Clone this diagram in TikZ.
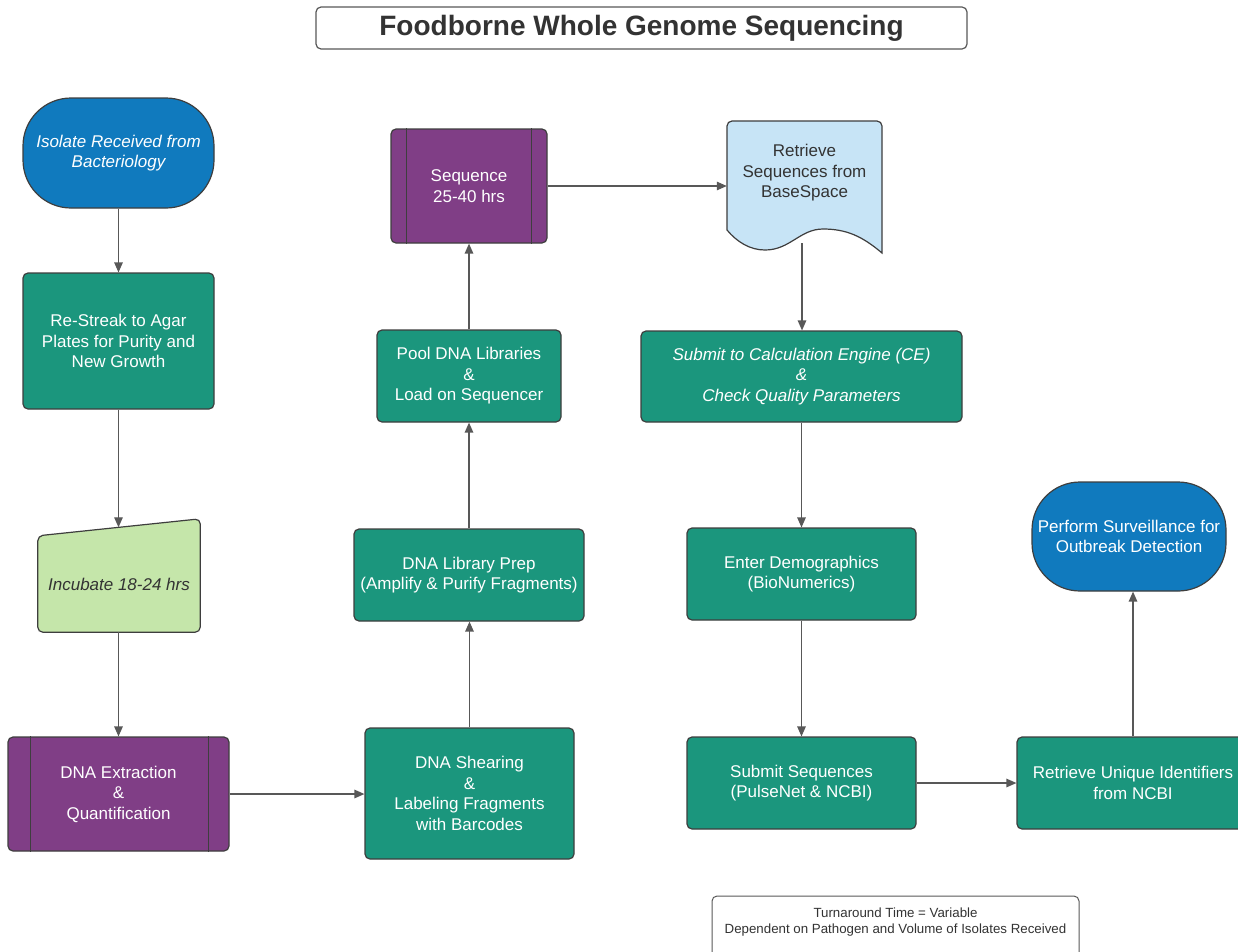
\documentclass[tikz,border=0pt]{standalone}
\usepackage{fontspec}
\setmainfont{Liberation Sans}
\usetikzlibrary{arrows.meta,calc}

\definecolor{termblue}{RGB}{16,122,190}
\definecolor{procteal}{RGB}{27,150,125}
\definecolor{predpurple}{RGB}{128,62,134}
\definecolor{inputgreen}{RGB}{197,230,170}
\definecolor{docblue}{RGB}{199,228,246}
\definecolor{edgegray}{RGB}{62,62,62}
\definecolor{flowgray}{RGB}{88,88,88}
\definecolor{textdark}{RGB}{51,51,51}

\begin{document}
\begin{tikzpicture}[x=1pt,y=-1pt,
  boxtext/.style={align=center,inner sep=0pt,font=\fontsize{17}{20.5}\selectfont},
  shapeline/.style={draw=edgegray,line width=1.2pt},
  process/.style={boxtext,shapeline,fill=procteal,text=white,rounded corners=5pt},
  predef/.style={boxtext,shapeline,fill=predpurple,text=white,rounded corners=5pt},
  terminal/.style={boxtext,shapeline,fill=termblue,text=white,rounded corners=48pt},
  flow/.style={draw=flowgray,line width=1.3pt,-{Triangle[length=10pt,width=8.5pt]}},
  titlebox/.style={draw=flowgray,line width=1.2pt,rounded corners=5pt,fill=white,
    font=\fontsize{28}{32}\selectfont\bfseries,text=textdark},
  notebox/.style={draw=flowgray,line width=1pt,rounded corners=5pt,fill=white},
  notetext/.style={align=center,inner sep=0pt,text=textdark,font=\fontsize{13.3}{16}\selectfont}
]
\useasboundingbox (0,0) rectangle (1238,951);
\fill[white] (0,0) rectangle (1238,951);

% title
\node[titlebox,minimum width=651pt,minimum height=42pt] (title) at (641.5,28) {Foodborne Whole Genome Sequencing};

% left column
\node[terminal,minimum width=191pt,minimum height=110pt] (iso) at (118.5,153)
  {\itshape Isolate Received from\\\itshape Bacteriology};
\node[process,minimum width=191pt,minimum height=136pt] (rs) at (118.5,341)
  {Re-Streak to Agar\\Plates for Purity and\\New Growth};

% manual input (sloped top)
\node[inner sep=0pt,minimum width=162pt,minimum height=96pt] (inc) at (119,584) {};
\path[shapeline,fill=inputgreen,rounded corners=5pt]
  (inc.south west) -- (inc.north west) -- ($(inc.north east)+(0,-17)$) -- (inc.south east) -- cycle;
\node[boxtext,text=textdark] (inctext) at (inc.center) {\itshape Incubate 18-24 hrs};
\coordinate (inctop) at ($(inc.north)+(0,-8.5)$);

\node[predef,minimum width=221pt,minimum height=114pt] (ext) at (118.5,794)
  {DNA Extraction\\\&\\Quantification};
\draw[shapeline] ($(ext.north west)+(23,0)$) -- ($(ext.south west)+(23,0)$);
\draw[shapeline] ($(ext.north east)+(-21,0)$) -- ($(ext.south east)+(-21,0)$);

% middle column
\node[process,minimum width=209pt,minimum height=131pt] (shear) at (469.5,793.5)
  {DNA Shearing\\\&\\Labeling Fragments\\with Barcodes};
\node[process,minimum width=230pt,minimum height=92pt] (lib) at (469,575)
  {DNA Library Prep\\(Amplify \& Purify Fragments)};
\node[process,minimum width=184pt,minimum height=92pt] (pool) at (469,376)
  {Pool DNA Libraries\\\&\\Load on Sequencer};
\node[predef,minimum width=156pt,minimum height=114pt] (seq) at (469,186)
  {Sequence\\25-40 hrs};
\draw[shapeline] ($(seq.north west)+(16,0)$) -- ($(seq.south west)+(16,0)$);
\draw[shapeline] ($(seq.north east)+(-16,0)$) -- ($(seq.south east)+(-16,0)$);

% document shape with wavy lower edge
\path[shapeline,fill=docblue]
  (727,230) [rounded corners=5pt] -- (727,121) -- (882,121) [sharp corners] -- (882,253)
  .. controls (862,236) and (846,229) .. (823,229)
  .. controls (800,229) and (790,250) .. (765,250)
  .. controls (750,250) and (737,242) .. (727,230) -- cycle;
\node[boxtext,text=textdark,minimum width=155pt] (ret) at (804.5,173)
  {Retrieve\\Sequences from\\BaseSpace};
\coordinate (retb) at (802,243);

% right columns
\node[process,minimum width=321pt,minimum height=91pt] (ce) at (801.5,376.5)
  {\itshape Submit to Calculation Engine (CE)\\\itshape\&\\\itshape Check Quality Parameters};
\node[process,minimum width=229pt,minimum height=92pt] (ed) at (801.5,574)
  {Enter Demographics\\(BioNumerics)};
\node[process,minimum width=229pt,minimum height=92pt] (ss) at (801.5,783)
  {Submit Sequences\\(PulseNet \& NCBI)};
\node[process,minimum width=232pt,minimum height=92pt] (ru) at (1133,783)
  {Retrieve Unique Identifiers\\from NCBI};
\node[terminal,minimum width=194pt,minimum height=109pt] (sv) at (1129,536.5)
  {Perform Surveillance for\\Outbreak Detection};

% turnaround note
\node[notebox,minimum width=367pt,minimum height=64pt] (note) at (895.5,928) {};
\node[notetext] (notetxt) at (895.5,922)
  {Turnaround Time = Variable\\Dependent on Pathogen and Volume of Isolates Received};

% connectors
\draw[flow] (iso) -- (rs);
\draw[flow] (rs.south) -- (rs.south |- inctop);
\draw[flow] (inc.south -| ext.north) -- (ext.north);
\draw[flow] (ext.east) -- (ext.east -| shear.west);
\draw[flow] (shear.north) -- (shear.north |- lib.south);
\draw[flow] (lib.north) -- (lib.north |- pool.south);
\draw[flow] (pool.north) -- (pool.north |- seq.south);
\draw[flow] (seq.east) -- (seq.east -| ret.west);
\draw[flow] (retb) -- (retb |- ce.north);
\draw[flow] (ce) -- (ed);
\draw[flow] (ed) -- (ss);
\draw[flow] (ss.east) -- (ss.east -| ru.west);
\draw[flow] (ru.north) -- (ru.north |- sv.south);
\end{tikzpicture}
\end{document}
